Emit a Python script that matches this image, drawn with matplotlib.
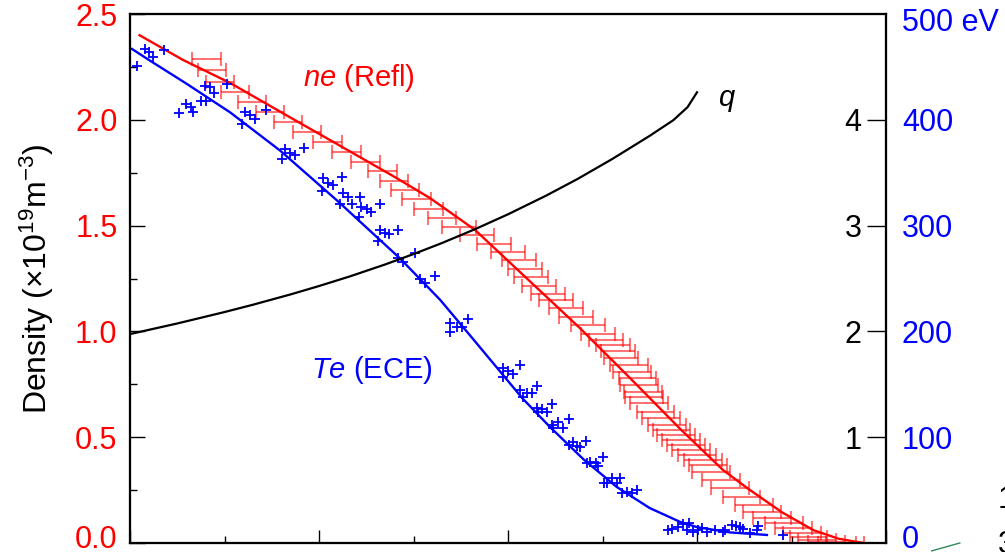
import matplotlib
matplotlib.use('Agg')
import matplotlib.pyplot as plt
from matplotlib.ticker import MultipleLocator
from matplotlib.lines import Line2D
from matplotlib.transforms import ScaledTranslation

plt.rcParams['font.family'] = 'Liberation Sans'
plt.rcParams['mathtext.fontset'] = 'custom'
plt.rcParams['mathtext.rm'] = 'Liberation Sans'
plt.rcParams['mathtext.it'] = 'Liberation Sans:italic'

### reflectometry density points (centre, half width of the horizontal error bar)
ne_y = [2.287, 2.235, 2.179, 2.131, 2.084, 2.037, 1.990, 1.942, 1.895, 1.848,
        1.801, 1.758, 1.711, 1.668, 1.626, 1.578, 1.536, 1.493, 1.456, 1.413,
        1.375, 1.337, 1.295, 1.257, 1.215, 1.177, 1.148, 1.111, 1.068, 1.030,
        0.988, 0.959, 0.936, 0.907, 0.874, 0.841, 0.808, 0.780, 0.747, 0.714,
        0.690, 0.662, 0.619, 0.591, 0.558, 0.534, 0.510, 0.487, 0.463, 0.440,
        0.416, 0.392, 0.369, 0.336, 0.298, 0.260, 0.217, 0.180, 0.147, 0.118,
        0.095, 0.071, 0.047, 0.028, 0.014, 0.005, 0.002, 0.0]
ne_x = [0.081, 0.087, 0.095, 0.111, 0.129, 0.148, 0.167, 0.187, 0.209, 0.229,
        0.249, 0.267, 0.279, 0.291, 0.303, 0.316, 0.330, 0.348, 0.367, 0.385,
        0.400, 0.412, 0.418, 0.424, 0.433, 0.442, 0.451, 0.461, 0.472, 0.485,
        0.495, 0.504, 0.511, 0.516, 0.520, 0.528, 0.531, 0.537, 0.539, 0.543,
        0.544, 0.549, 0.556, 0.562, 0.568, 0.573, 0.578, 0.583, 0.588, 0.594,
        0.600, 0.606, 0.612, 0.615, 0.625, 0.635, 0.647, 0.660, 0.669, 0.679,
        0.692, 0.702, 0.711, 0.718, 0.727, 0.737, 0.748, 0.757]
ne_xerr = [0.015] * 17 + [0.018] * 18 + [0.020] * 33

### density fit
ne_fit_x = [0.01, 0.056, 0.106, 0.17, 0.233, 0.28, 0.3175, 0.365, 0.42, 0.476,
            0.529, 0.582, 0.6275, 0.653, 0.69, 0.723, 0.75, 0.776]
ne_fit_y = [2.40, 2.283, 2.174, 2.01, 1.85, 1.73, 1.63, 1.48, 1.25, 1.016,
            0.78, 0.54, 0.345, 0.26, 0.145, 0.061, 0.02, 0.0]

### ECE temperature points (eV)
te_x = [0.007, 0.016, 0.020, 0.024, 0.036,
        0.052, 0.059, 0.065, 0.067, 0.075, 0.080, 0.079, 0.085, 0.089, 0.103,
        0.119, 0.122, 0.127, 0.132, 0.144,
        0.161, 0.164, 0.169, 0.175, 0.184,
        0.203, 0.204, 0.210, 0.215, 0.224,
        0.222, 0.225, 0.231, 0.235, 0.243, 0.244, 0.251, 0.255, 0.265, 0.242,
        0.262, 0.265, 0.270, 0.274, 0.284,
        0.284, 0.289, 0.302,
        0.307, 0.312, 0.323,
        0.339, 0.339, 0.346, 0.351, 0.358,
        0.395, 0.395, 0.400, 0.405, 0.413,
        0.413, 0.416, 0.420, 0.425, 0.431,
        0.431, 0.436, 0.441, 0.432, 0.447,
        0.447, 0.448, 0.453, 0.458, 0.464,
        0.464, 0.469, 0.473, 0.476, 0.483,
        0.484, 0.487, 0.493, 0.495, 0.501,
        0.502, 0.505, 0.510, 0.515, 0.519,
        0.521, 0.526, 0.531, 0.537,
        0.569, 0.574, 0.580, 0.585, 0.591, 0.589, 0.596, 0.601, 0.605, 0.611,
        0.619, 0.627, 0.630, 0.637, 0.641, 0.646, 0.649, 0.656, 0.664, 0.665, 0.691]
te_ev = [451, 467, 464, 459, 466,
         406, 415, 412, 407, 418, 418, 432, 431, 425, 434,
         396, 407, 405, 401, 409,
         363, 372, 369, 367, 373,
         333, 345, 340, 338, 346,
         320, 331, 327, 320, 327, 318, 316, 313, 320, 308,
         285, 296, 293, 292, 296,
         269, 266, 274,
         250, 246, 252,
         208, 199, 204, 204, 212,
         165, 157, 163, 160, 168,
         145, 138, 142, 142, 148,
         128, 127, 124, 124, 131,
         112, 109, 114, 109, 117,
         93, 95, 92, 91, 96,
         76, 77, 76, 73, 81,
         57, 57, 61, 57, 61,
         47, 48, 47, 50,
         12, 13, 15, 18, 19, 12, 10, 12, 14, 10,
         12, 10, 12, 17, 16, 15, 13, 9, 12, 16, 8]

### temperature fit (eV)
te_fit_x = [0.002, 0.021, 0.06, 0.106, 0.1587, 0.22, 0.2857, 0.328, 0.36, 0.388,
            0.415, 0.444, 0.48, 0.515, 0.55, 0.582, 0.6, 0.635, 0.674]
te_fit_ev = [467, 456, 434, 407, 371, 323, 269, 230, 196, 166,
             137, 110, 79, 53, 33, 20, 15, 10, 7.6]

### safety factor q
q_x = [0.0, 0.05, 0.0995, 0.13, 0.17, 0.2, 0.233, 0.27, 0.3, 0.33, 0.365,
       0.4, 0.44, 0.473, 0.51, 0.55, 0.575, 0.59, 0.6]
q_val = [1.975, 2.075, 2.182, 2.252, 2.350, 2.429, 2.521, 2.633, 2.731, 2.835,
         2.966, 3.107, 3.282, 3.438, 3.628, 3.849, 3.997, 4.12, 4.26]

### tick values
density_ticks = [0.0, 0.5, 1.0, 1.5, 2.0, 2.5]
te_ticks = [0, 100, 200, 300, 400]
q_ticks = [1, 2, 3, 4]

RED = '#ff0000'
BLUE = '#0000ff'

fig = plt.figure(figsize=(10.05, 5.52), dpi=100)
ax = fig.add_axes([0.1294, 0.0163, 0.7522, 0.9583])
ax.set_xlim(0, 0.8)
ax.set_ylim(0, 2.5)

ax.errorbar(ne_x, ne_y, xerr=ne_xerr, fmt='none', ecolor=RED, alpha=0.55,
            elinewidth=1.5, capsize=4.8, capthick=1.5, zorder=2)
ax.plot(ne_fit_x, ne_fit_y, color=RED, lw=1.7, zorder=3)

ax.xaxis.set_major_locator(MultipleLocator(0.2))
ax.xaxis.set_minor_locator(MultipleLocator(0.1))
ax.set_yticks(density_ticks)
ax.set_yticklabels(['%.1f' % v for v in density_ticks])
ax.yaxis.set_minor_locator(MultipleLocator(0.25))
ax.tick_params(axis='x', which='major', direction='in', length=9.5, width=1,
               labelbottom=False, top=False)
ax.tick_params(axis='x', which='minor', direction='in', length=5, width=1, top=False)
ax.tick_params(axis='y', which='major', direction='in', length=10.8, width=1,
               labelsize=22, labelcolor=RED, pad=9, right=False)
ax.tick_params(axis='y', which='minor', direction='in', length=5, width=1, right=False)
ax.set_ylabel('Density (\u00d710$^{\\mathregular{19}}$m$^{\\mathregular{-3}}$)', fontsize=23)
ax.yaxis.set_label_coords(-0.098, 0.5)

ax.text(0.2423, 2.198, r'$\mathit{ne}$ (Refl)', color=RED, fontsize=21,
        ha='center', va='center')
ax.text(0.256, 0.818, r'$\mathit{Te}$ (ECE)', color=BLUE, fontsize=21,
        ha='center', va='center')
ax.text(0.632, 2.094, r'$\mathit{q}$', color='black', fontsize=21,
        ha='center', va='center')

### temperature axis (right, blue)
axT = ax.twinx()
axT.set_ylim(0, 500)
axT.set_yticks(te_ticks)
axT.tick_params(axis='y', length=0, labelsize=22, labelcolor=BLUE, pad=11.5)
axT.plot(te_fit_x, te_fit_ev, color=BLUE, lw=1.7, zorder=3)
axT.plot(te_x, te_ev, ls='none', marker='+', color=BLUE, ms=7.5, mew=1.3, zorder=4)
axT.text(1.021, 0.983, '500 eV', transform=axT.transAxes, color=BLUE,
         fontsize=22, ha='left', va='center')

### q axis (ticks inside, labels left of the right spine)
axq = ax.twinx()
axq.set_ylim(0, 5)
axq.set_yticks(q_ticks)
axq.tick_params(axis='y', direction='in', length=13.7, width=1, labelsize=22,
                labelcolor='black', pad=-17.5)
for lab in axq.get_yticklabels():
    lab.set_horizontalalignment('right')
axq.plot(q_x, q_val, color='black', lw=1.6, zorder=3)

### lift the two zero labels a little so they sit inside the figure
nudge = ScaledTranslation(0, 4.5 / 72, fig.dpi_scale_trans)
for lab in (ax.get_yticklabels()[0], axT.get_yticklabels()[0]):
    lab.set_transform(lab.get_transform() + nudge)

for a in (ax, axT, axq):
    for s in a.spines.values():
        s.set_linewidth(1.5)

### fragments of the neighbouring panel at the bottom-right edge
fig.text(0.993, 0.094, '1', fontsize=22, ha='left', va='center')
fig.text(0.993, 0.013, '3', fontsize=22, ha='left', va='center')
fig.add_artist(Line2D([0.927, 0.955], [0.002, 0.0163], color='#2e8b57', lw=1))

fig.savefig('out.png', dpi=100)
